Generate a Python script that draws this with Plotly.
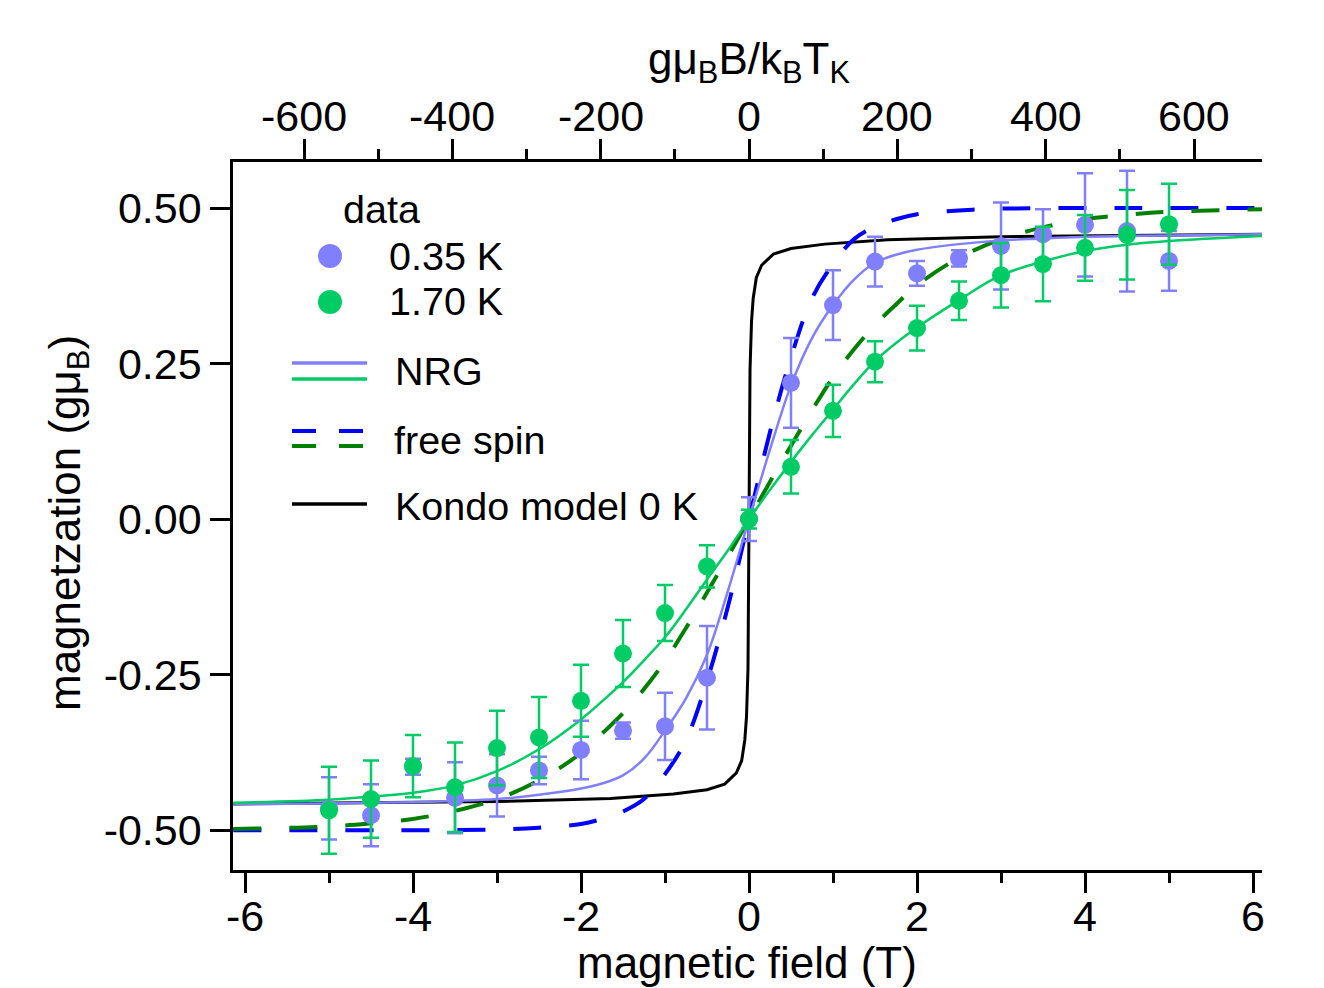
import plotly.graph_objects as go

# ---- measured magnetization (error bars = 1 sigma) ----
field_T = [-5, -4.5, -4, -3.5, -3, -2.5, -2, -1.5, -1, -0.5, 0,
           0.5, 1, 1.5, 2, 2.5, 3, 3.5, 4, 4.5, 5]

m_035K = [-0.465, -0.476, -0.398, -0.448, -0.428, -0.404, -0.371, -0.340, -0.333, -0.255, 0.0,
          0.219, 0.344, 0.414, 0.395, 0.419, 0.439, 0.458, 0.473, 0.463, 0.415]
err_035K = [0.050, 0.050, 0.013, 0.057, 0.050, 0.022, 0.047, 0.013, 0.054, 0.083, 0.035,
            0.072, 0.056, 0.040, 0.020, 0.013, 0.070, 0.040, 0.083, 0.097, 0.048]

m_170K = [-0.468, -0.450, -0.397, -0.431, -0.368, -0.351, -0.292, -0.216, -0.151, -0.076, 0.0,
          0.084, 0.174, 0.253, 0.307, 0.351, 0.392, 0.410, 0.436, 0.457, 0.474]
err_170K = [0.070, 0.062, 0.050, 0.072, 0.060, 0.065, 0.058, 0.054, 0.045, 0.034, 0.015,
            0.043, 0.042, 0.033, 0.036, 0.031, 0.052, 0.060, 0.053, 0.072, 0.065]

# ---- NRG calculations ----
nrg_B = [-6.14, -5, -4.5, -4, -3.5, -3, -2.5, -2, -1.75, -1.5, -1.25, -1, -0.75, -0.5, -0.25, 0,
         0.25, 0.5, 0.75, 1, 1.25, 1.5, 1.75, 2, 2.5, 3, 3.5, 4, 4.5, 5, 6.11]
nrg_035K = [-0.458, -0.457, -0.456, -0.455, -0.453, -0.450, -0.443, -0.433, -0.425, -0.412, -0.385,
            -0.340, -0.288, -0.218, -0.115, 0.0,
            0.112, 0.215, 0.291, 0.344, 0.385, 0.412, 0.425, 0.433, 0.442, 0.448, 0.451, 0.454,
            0.455, 0.456, 0.458]
nrg_170K = [-0.456, -0.451, -0.446, -0.440, -0.428, -0.405, -0.370, -0.322, -0.293, -0.262, -0.227,
            -0.190, -0.145, -0.097, -0.050, 0.0,
            0.047, 0.092, 0.135, 0.176, 0.217, 0.254, 0.283, 0.308, 0.352, 0.392, 0.414, 0.431,
            0.441, 0.447, 0.455]

# ---- free spin-1/2 (Brillouin) curves ----
free_B = [-6.14, -4, -3, -2.5, -2, -1.75, -1.5, -1.25, -1, -0.75, -0.5, -0.25, 0,
          0.25, 0.5, 0.75, 1, 1.25, 1.5, 1.75, 2, 2.5, 3, 4, 6.11]
free_035K = [-0.500, -0.500, -0.499, -0.496, -0.490, -0.482, -0.470, -0.450, -0.410, -0.355, -0.260,
             -0.140, 0.0,
             0.140, 0.260, 0.355, 0.410, 0.450, 0.470, 0.482, 0.490, 0.496, 0.499, 0.500, 0.500]
free2_B = [-6.14, -5, -4.5, -4, -3.5, -3, -2.5, -2, -1.75, -1.5, -1.25, -1, -0.75, -0.5, -0.25, 0,
           0.25, 0.5, 0.75, 1, 1.25, 1.5, 1.75, 2, 2.5, 3, 3.5, 4, 4.5, 5, 6.11]
free_170K = [-0.498, -0.494, -0.489, -0.482, -0.469, -0.450, -0.420, -0.376, -0.345, -0.312, -0.273,
             -0.228, -0.175, -0.118, -0.060, 0.0,
             0.060, 0.118, 0.175, 0.228, 0.273, 0.312, 0.345, 0.376, 0.420, 0.450, 0.469, 0.482,
             0.489, 0.494, 0.498]

# ---- Kondo model, T = 0 ----
kondo_B = [-6.14, -3, -1.65, -0.9, -0.5, -0.29, -0.15, -0.087, -0.05, -0.03, -0.012, -0.004, 0,
           0.004, 0.012, 0.03, 0.05, 0.087, 0.15, 0.29, 0.5, 0.9, 1.65, 3, 6.11]
kondo_m = [-0.458, -0.454, -0.449, -0.442, -0.435, -0.426, -0.408, -0.388, -0.355, -0.318, -0.24, -0.11, 0.0,
           0.11, 0.24, 0.318, 0.355, 0.388, 0.408, 0.426, 0.435, 0.442, 0.449, 0.454, 0.458]

# ---- axes ----
x_range = [-6.143, 6.107]
y_range = [-0.564, 0.574]
units_per_tesla = 113.26          # g muB B / kB TK per tesla
bottom_ticks = [-6, -4, -2, 0, 2, 4, 6]
bottom_labels = ["-6", "-4", "-2", "0", "2", "4", "6"]
top_ticks = [-600, -400, -200, 0, 200, 400, 600]
top_labels = ["-600", "-400", "-200", "0", "200", "400", "600"]
left_ticks = [-0.5, -0.25, 0, 0.25, 0.5]
left_labels = ["-0.50", "-0.25", "0.00", "0.25", "0.50"]

C_BLUE = "#8080FF"
C_GREEN = "#00CC66"
C_FREE_BLUE = "#0000FF"
C_FREE_GREEN = "#007F00"
FONT = "Liberation Sans, Arial, sans-serif"

fig = go.Figure()

fig.add_trace(go.Scatter(x=kondo_B, y=kondo_m, mode="lines",
                         line=dict(color="black", width=3), showlegend=False))
fig.add_trace(go.Scatter(x=free_B, y=free_035K, mode="lines", line_shape="spline",
                         line=dict(color=C_FREE_BLUE, width=4, dash="28px,28px"), showlegend=False))
fig.add_trace(go.Scatter(x=free2_B, y=free_170K, mode="lines", line_shape="spline",
                         line=dict(color=C_FREE_GREEN, width=4, dash="28px,28px"), showlegend=False))
fig.add_trace(go.Scatter(x=nrg_B, y=nrg_035K, mode="lines", line_shape="spline",
                         line=dict(color=C_BLUE, width=2.5), showlegend=False))
fig.add_trace(go.Scatter(x=nrg_B, y=nrg_170K, mode="lines", line_shape="spline",
                         line=dict(color=C_GREEN, width=2.5), showlegend=False))
fig.add_trace(go.Scatter(x=field_T, y=m_035K, mode="markers",
                         marker=dict(color=C_BLUE, size=18),
                         error_y=dict(type="data", array=err_035K, color=C_BLUE,
                                      thickness=2.5, width=8),
                         showlegend=False))
fig.add_trace(go.Scatter(x=field_T, y=m_170K, mode="markers",
                         marker=dict(color=C_GREEN, size=18),
                         error_y=dict(type="data", array=err_170K, color=C_GREEN,
                                      thickness=2.5, width=8),
                         showlegend=False))
# carrier for the top (reduced-field) axis
fig.add_trace(go.Scatter(x=[x_range[0] * units_per_tesla, x_range[1] * units_per_tesla],
                         y=[None, None], xaxis="x2", yaxis="y", mode="lines",
                         showlegend=False, hoverinfo="skip"))

TICK_SIZE = 43
tick_font = dict(family=FONT, size=TICK_SIZE, color="black")
axis_common = dict(showline=True, linecolor="black", linewidth=2.5, ticks="outside",
                   ticklen=20, tickwidth=2.5, tickcolor="black", showgrid=False,
                   zeroline=False, tickfont=tick_font)

fig.update_layout(
    width=1324, height=988, autosize=False,
    margin=dict(l=233, r=62, t=162, b=118),
    paper_bgcolor="white", plot_bgcolor="white",
    font=dict(family=FONT, color="black"),
    xaxis=dict(range=x_range, tickvals=bottom_ticks, showticklabels=False,
               minor=dict(dtick=1, tick0=0, ticklen=10, tickwidth=2.5, tickcolor="black",
                          ticks="outside"),
               **axis_common),
    xaxis2=dict(range=[x_range[0] * units_per_tesla, x_range[1] * units_per_tesla],
                overlaying="x", side="top", anchor="y",
                tickvals=top_ticks, showticklabels=False,
                minor=dict(dtick=100, tick0=0, ticklen=10, tickwidth=2.5, tickcolor="black",
                           ticks="outside"),
                **axis_common),
    yaxis=dict(range=y_range, tickvals=left_ticks, ticktext=left_labels, **axis_common),
)


def px_x(x):
    return (x - 233) / 1029


def px_y(y):
    return (870 - y) / 708


# tick labels of the two horizontal axes, set close to the axis lines
for v, lab in zip(bottom_ticks, bottom_labels):
    fig.add_annotation(xref="x", yref="paper", x=v, y=px_y(916), text=lab, showarrow=False,
                       font=tick_font, xanchor="center", yanchor="middle")
for v, lab in zip(top_ticks, top_labels):
    fig.add_annotation(xref="x2", yref="paper", x=v, y=px_y(116), text=lab, showarrow=False,
                       font=tick_font, xanchor="center", yanchor="middle")

title_font = dict(family=FONT, size=44, color="black")
annotations = [
    dict(text="magnetic field (T)", x=px_x(747), y=px_y(962)),
    dict(text="gμ<sub>B</sub>B/k<sub>B</sub>T<sub>K</sub>", x=px_x(749), y=px_y(62)),
    dict(text="magnetzation (gμ<sub>B</sub>)", x=px_x(68), y=px_y(523), textangle=-90),
]
for a in annotations:
    fig.add_annotation(xref="paper", yref="paper", showarrow=False, font=title_font,
                       xanchor="center", yanchor="middle", **a)

# legend block
legend_font = dict(family=FONT, size=39.5, color="black")
legend_text = [("data", 341, 209), ("0.35 K", 387, 256), ("1.70 K", 387, 301),
               ("NRG", 393, 371), ("free spin", 392, 440), ("Kondo model 0 K", 393, 506)]
for txt, lx, ly in legend_text:
    fig.add_annotation(xref="paper", yref="paper", showarrow=False, font=legend_font,
                       text=txt, x=px_x(lx), y=px_y(ly), xanchor="left", yanchor="middle")

for col, cy in [(C_BLUE, 256), (C_GREEN, 302)]:
    fig.add_shape(type="circle", xref="paper", yref="paper", xsizemode="pixel",
                  ysizemode="pixel", xanchor=px_x(330), yanchor=px_y(cy),
                  x0=-12, x1=12, y0=-12, y1=12, fillcolor=col, line=dict(width=0))

legend_lines = [(C_BLUE, 363, 3.3, "solid"), (C_GREEN, 379, 3.3, "solid"),
                (C_FREE_BLUE, 431, 4, "24px,23px"), (C_FREE_GREEN, 446, 4, "24px,23px"),
                ("black", 504, 3.3, "solid")]
for col, ly, w, d in legend_lines:
    fig.add_shape(type="line", xref="paper", yref="paper", x0=px_x(292), x1=px_x(367),
                  y0=px_y(ly), y1=px_y(ly), line=dict(color=col, width=w, dash=d))

fig.write_html("out.html")
